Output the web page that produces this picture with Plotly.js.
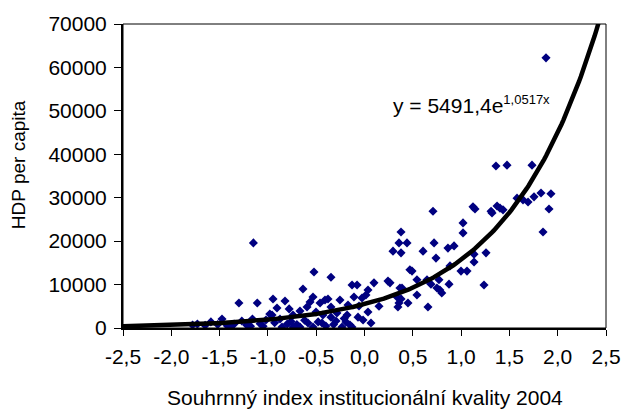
<!DOCTYPE html>
<html>
<head>
<meta charset="utf-8">
<script src="https://cdn.plot.ly/plotly-3.0.1.min.js"></script>
<style>html,body{margin:0;padding:0;background:#fff;}#chart{width:622px;height:412px;}</style>
</head>
<body>
<div id="chart"></div>
<script>
// Institutional quality index 2004 (x) vs GDP per capita (y)
const indexValues = [
 -1.78,-1.73,-1.65,-1.59,-1.52,-1.475,-1.42,-1.39,-1.35,-1.30,-1.27,-1.22,-1.18,-1.16,-1.15,-1.11,-1.08,-1.05,-1.02,-0.98,
 -0.957,-0.947,-0.93,-0.906,-0.875,-0.854,-0.823,-0.80,-0.78,-0.76,-0.74,-0.74,-0.70,-0.668,-0.668,-0.637,-0.62,-0.595,-0.585,-0.564,
 -0.533,-0.533,-0.523,-0.502,-0.48,-0.46,-0.44,-0.43,-0.409,-0.40,-0.378,-0.347,-0.347,-0.347,-0.32,-0.295,-0.285,-0.254,-0.233,-0.21,
 -0.192,-0.18,-0.171,-0.15,-0.13,-0.129,-0.109,-0.077,-0.067,-0.057,-0.026,-0.015,0.015,0.036,0.036,0.067,0.098,0.15,
 0.243,0.264,0.295,0.336,0.346,0.357,0.357,0.367,0.378,0.378,0.378,0.388,0.44,0.45,0.47,0.492,0.543,0.543,0.606,0.647,
 0.657,0.688,0.709,0.72,0.74,0.75,0.771,0.78,0.80,0.864,0.875,0.885,0.927,0.999,1.02,1.02,1.061,1.123,1.134,1.134,
 1.144,1.237,1.258,1.31,1.32,1.361,1.372,1.403,1.434,1.475,1.579,1.641,1.693,1.734,1.755,1.827,1.848,1.879,1.91,1.93
];
const gdpValues = [
 700,900,600,1400,800,2070,500,200,900,5760,1600,700,400,2070,19600,5760,1000,400,1840,3200,
 3000,6680,1200,4600,2070,230,6200,900,4400,1500,3000,230,800,3900,230,8980,1800,4840,1150,6000,
 7140,230,12900,3700,1400,5760,1150,3000,6450,460,6680,11700,4840,2500,800,1600,3450,6450,230,2200,
 1400,3000,5300,700,230,9900,7140,9900,2500,5070,6900,1840,7600,8750,3700,1150,10400,5000,
 10800,10400,17700,7140,4840,19600,5760,9200,22100,17300,6700,9200,19600,5760,13400,13100,11100,7600,17700,11100,
 4840,10100,26900,19600,16100,9200,11100,8750,8060,18400,10100,14300,18900,13100,24200,21900,13100,27900,17000,15200,
 27400,9900,17300,26900,26500,37300,28100,27600,27200,37500,29900,29500,29000,37500,30200,31100,22100,62200,27400,30900
];
// Exponential trend line reported in the chart: y = 5491,4 e^(1,0517x)
const trendA = 5491.4;
const trendB = 1.0517;
const trendX = [];
for (let i = 0; i <= 250; i++) trendX.push(-2.5 + i * 0.02);
const trendY = trendX.map(x => trendA * Math.exp(trendB * x));

const xTickVals = [-2.5,-2.0,-1.5,-1.0,-0.5,0.0,0.5,1.0,1.5,2.0,2.5];
const xTickLabels = ["-2,5","-2,0","-1,5","-1,0","-0,5","0,0","0,5","1,0","1,5","2,0","2,5"];
const yTickVals = [0,10000,20000,30000,40000,50000,60000,70000];
const yTickLabels = ["0","10000","20000","30000","40000","50000","60000","70000"];
const xTitle = 'Souhrnný index institucionální kvality 2004';
const yTitle = 'HDP per capita';
const equationText = 'y = 5491,4e<sup><span style="font-size:13px">1,0517x</span></sup>';

const font = "Liberation Sans, Arial, sans-serif";

const traces = [
 {x: indexValues, y: gdpValues, type: 'scatter', mode: 'markers',
  marker: {symbol: 'diamond', size: 7, color: '#000080'}, hoverinfo: 'none'},
 {x: trendX, y: trendY, type: 'scatter', mode: 'lines',
  line: {color: '#000000', width: 4.5}, hoverinfo: 'none'}
];

const layout = {
 width: 622, height: 412,
 margin: {l: 123, r: 16, t: 24, b: 84},
 paper_bgcolor: '#ffffff', plot_bgcolor: '#ffffff',
 showlegend: false,
 font: {family: font, size: 21, color: '#000'},
 xaxis: {range: [-2.5, 2.5], tickvals: xTickVals, ticktext: xTickLabels,
  showgrid: false, zeroline: false, showline: true, linecolor: '#000', linewidth: 2,
  ticks: 'outside', ticklen: 6, tickwidth: 1, tickcolor: '#000', ticklabelstandoff: 3,
  tickfont: {family: font, size: 21, color: '#000'}},
 yaxis: {range: [0, 70000], tickvals: yTickVals, ticktext: yTickLabels,
  showgrid: false, zeroline: false, showline: true, linecolor: '#000', linewidth: 2,
  ticks: 'outside', ticklen: 7, tickwidth: 1, tickcolor: '#000', ticklabelstandoff: 3,
  tickfont: {family: font, size: 21, color: '#000'}},
 shapes: [{type: 'rect', xref: 'paper', yref: 'paper', x0: 0, x1: 1, y0: 0, y1: 1,
  line: {color: '#000', width: 1}, fillcolor: 'rgba(0,0,0,0)'}],
 annotations: [
  {xref: 'x', yref: 'y', x: 0.27, y: 51400, xanchor: 'left', yanchor: 'middle',
   showarrow: false, text: equationText, font: {family: font, size: 21, color: '#000'}},
  {xref: 'paper', yref: 'paper', x: 0.5, y: -0.227, xanchor: 'center', yanchor: 'middle',
   showarrow: false, text: xTitle, font: {family: font, size: 21, color: '#000'}},
  {xref: 'paper', yref: 'paper', x: -0.2174, y: 0.539, xanchor: 'center', yanchor: 'middle',
   showarrow: false, textangle: -90, text: yTitle, font: {family: font, size: 19, color: '#000'}}
 ]
};

Plotly.newPlot('chart', traces, layout, {staticPlot: true, displayModeBar: false});
</script>
</body>
</html>
